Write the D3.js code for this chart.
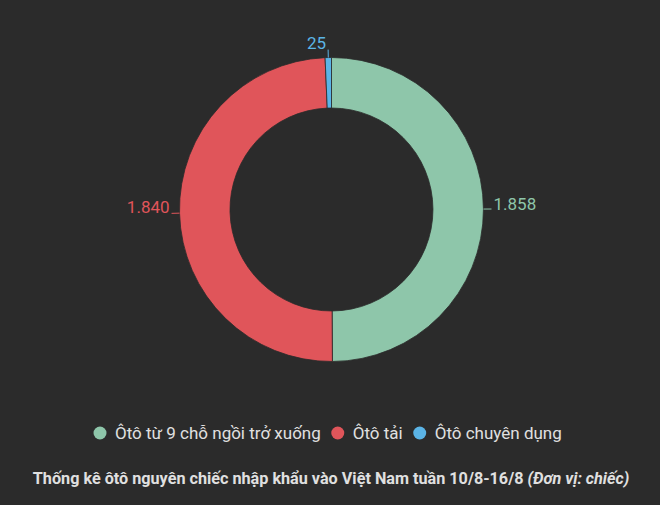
<!DOCTYPE html>
<html>
<head>
<meta charset="utf-8">
<script src="https://cdn.jsdelivr.net/npm/d3@7/dist/d3.min.js"></script>
<style>
  html, body { margin: 0; padding: 0; background: #2b2b2b; }
  svg { display: block; font-family: Roboto, "Noto Sans", sans-serif; }
</style>
</head>
<body>
<svg id="chart" width="660" height="505"></svg>
<script>
// Imported cars by type, week 10/8 - 16/8
const categories = ["Ôtô từ 9 chỗ ngồi trở xuống", "Ôtô tải", "Ôtô chuyên dụng"];
const values = [1858, 1840, 25];
const valueLabels = ["1.858", "1.840", "25"];
const colors = ["#8ec6aa", "#e0555a", "#5bb4e6"];
const title = "Thống kê ôtô nguyên chiếc nhập khẩu vào Việt Nam tuần 10/8-16/8 ";
const titleNote = "(Đơn vị: chiếc)";

const svg = d3.select("#chart");
const W = 660, H = 505;
const cx = 331.5, cy = 209.5;
const outerR = 152, innerR = 101.5;

const pie = d3.pie().sort(null).value(d => d.value);
const data = pie(values.map((v, i) => ({ value: v, name: categories[i], label: valueLabels[i], color: colors[i] })));
const arc = d3.arc().innerRadius(innerR).outerRadius(outerR);

const g = svg.append("g").attr("transform", `translate(${cx},${cy})`);

g.selectAll("path.slice")
  .data(data)
  .join("path")
  .attr("class", "slice")
  .attr("d", arc)
  .attr("fill", d => d.data.color)
  .attr("stroke", "#2b2b2b")
  .attr("stroke-width", 0.8);

// Data labels with short connectors
const connectorLen = 8;
data.forEach(d => {
  const a = (d.startAngle + d.endAngle) / 2;
  const sx = Math.sin(a), sy = -Math.cos(a);
  const p0 = [sx * outerR, sy * outerR];
  const p1 = [sx * (outerR + connectorLen), sy * (outerR + connectorLen)];
  g.append("line")
    .attr("x1", p0[0]).attr("y1", p0[1])
    .attr("x2", p1[0]).attr("y2", p1[1])
    .attr("stroke", d.data.color)
    .attr("stroke-width", 1);
  let tx, ty, anchor;
  if (Math.abs(sx) < 0.3) {
    // near the top: text sits left of the connector end
    anchor = "end";
    tx = p1[0] - 2;
    ty = p1[1] - 1;
  } else if (sx > 0) {
    anchor = "start";
    tx = p1[0] + 2;
    ty = p1[1] + 1;
  } else {
    anchor = "end";
    tx = p1[0] - 2;
    ty = p1[1];
  }
  g.append("text")
    .attr("x", tx).attr("y", ty)
    .attr("text-anchor", anchor)
    .attr("fill", d.data.color)
    .attr("font-size", 17)
    .text(d.data.label);
});

// Legend
const legend = svg.append("g").attr("transform", "translate(0,433)");
let lx = 100;
categories.forEach((c, i) => {
  legend.append("circle").attr("cx", lx).attr("cy", 0).attr("r", 6.5).attr("fill", colors[i]);
  const t = legend.append("text")
    .attr("x", lx + 15).attr("y", 6)
    .attr("fill", "#e0e0e0")
    .attr("font-size", 17)
    .text(c);
  const w = t.node().getComputedTextLength();
  lx = lx + 15 + w + 17;
});

// Caption
const cap = svg.append("text")
  .attr("x", 331).attr("y", 484)
  .attr("text-anchor", "middle")
  .attr("fill", "#e0e0e0")
  .attr("font-size", 16.2)
  .attr("font-weight", "bold");
cap.append("tspan").text(title);
cap.append("tspan").attr("font-style", "italic").text(titleNote);
</script>
</body>
</html>
